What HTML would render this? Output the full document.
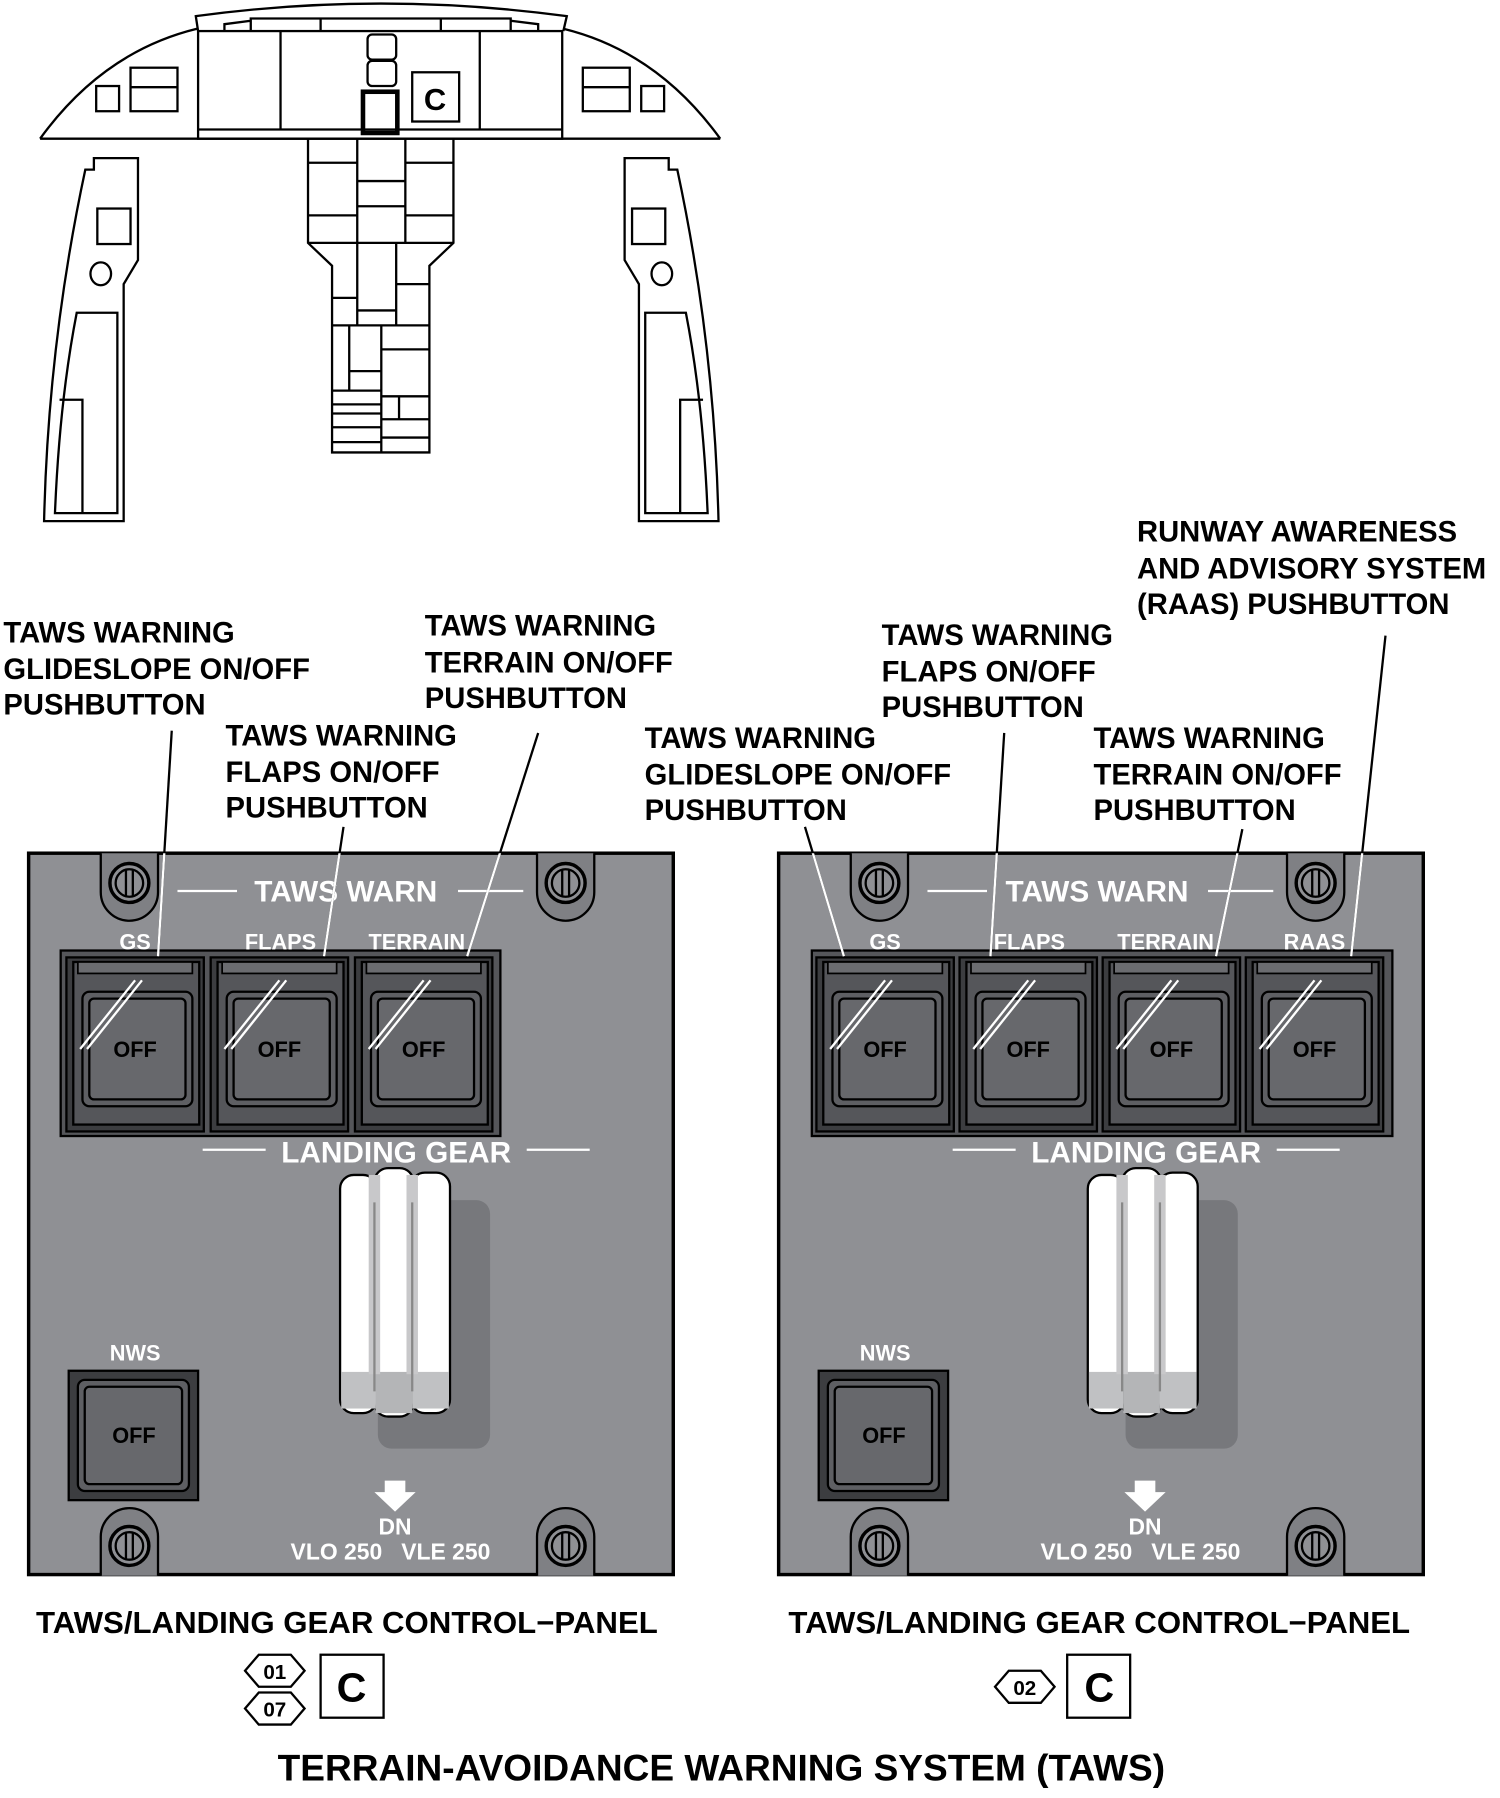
<!DOCTYPE html>
<html><head><meta charset="utf-8"><style>
html,body{margin:0;padding:0;background:#fff;}
svg{display:block}
text{font-family:"Liberation Sans",Arial,sans-serif;font-weight:bold}
</style></head><body>
<svg width="1500" height="1798" viewBox="0 0 1310 1570" xmlns="http://www.w3.org/2000/svg">
<defs>
<clipPath id="cpL"><rect x="25" y="745" width="563" height="630"/></clipPath>
<clipPath id="cpR"><rect x="680" y="745" width="563" height="630"/></clipPath>
<g id="screw">
 <path d="M-25,-26 L-25,8 A25,25 0 0 0 25,8 L25,-26" fill="#7f8084" stroke="#000" stroke-width="2"/>
 <circle r="17" fill="#8f9094" stroke="#000" stroke-width="3"/>
 <circle r="12" fill="none" stroke="#000" stroke-width="2"/>
 <line x1="-3" y1="-12" x2="-3" y2="12" stroke="#000" stroke-width="2"/>
 <line x1="3" y1="-12" x2="3" y2="12" stroke="#000" stroke-width="2"/>
</g>
<g id="btn">
 <rect x="0" y="0" width="120" height="152" fill="#3c3d40" stroke="#000" stroke-width="2"/>
 <rect x="6" y="4" width="110" height="142" fill="#55565a" stroke="#000" stroke-width="2"/>
 <rect x="10" y="4" width="100" height="10" fill="#6b6c70" stroke="#000" stroke-width="1.5"/>
 <rect x="14" y="30" width="96" height="100" rx="6" fill="#5e5f63" stroke="#000" stroke-width="2"/>
 <rect x="20" y="36" width="84" height="88" rx="4" fill="#67686c" stroke="#000" stroke-width="2"/>
 <line x1="12" y1="80" x2="60" y2="20" stroke="#fff" stroke-width="2"/>
 <line x1="18" y1="80" x2="66" y2="20" stroke="#fff" stroke-width="2"/>
 <text x="60" y="87" font-size="19" text-anchor="middle" fill="#000">OFF</text>
</g>
<g id="lever">
 <rect x="33" y="28" width="98" height="217" rx="12" fill="#77787c"/>
 <rect x="0" y="6" width="32" height="208" rx="12" fill="#fff" stroke="#000" stroke-width="2"/>
 <rect x="62" y="4" width="34" height="210" rx="12" fill="#fff" stroke="#000" stroke-width="2"/>
 <rect x="30" y="0" width="34" height="217" rx="12" fill="#fff" stroke="#000" stroke-width="2"/>
 <rect x="1" y="178" width="30" height="32" fill="#c0c1c3"/>
 <rect x="31" y="178" width="32" height="36" fill="#b4b5b7"/>
 <rect x="63" y="178" width="32" height="32" fill="#c0c1c3"/>
 <rect x="25" y="6" width="10" height="174" fill="#c8c8ca"/>
 <rect x="58" y="6" width="10" height="174" fill="#c8c8ca"/>
 <line x1="30" y1="30" x2="30" y2="195" stroke="#888" stroke-width="2"/>
 <line x1="63" y1="30" x2="63" y2="195" stroke="#888" stroke-width="2"/>
</g>
<g id="nws">
 <rect x="0" y="0" width="113" height="113" fill="#3c3d40" stroke="#000" stroke-width="2"/>
 <rect x="8" y="8" width="97" height="97" rx="6" fill="#5e5f63" stroke="#000" stroke-width="2"/>
 <rect x="14" y="14" width="85" height="85" rx="4" fill="#67686c" stroke="#000" stroke-width="2"/>
 <text x="57" y="63" font-size="19" text-anchor="middle" fill="#000">OFF</text>
</g>
<g id="hex">
 <polygon points="-26,0 -14,-14 14,-14 26,0 14,14 -14,14" fill="#fff" stroke="#000" stroke-width="2"/>
</g>
<g id="side" fill="none" stroke="#000" stroke-width="2">
 <path d="M82,138 L120.5,138 L120.5,227 L108,248 L108,455 L38.5,455 Q42,300 74.5,148 L82,148 Z"/>
 <path d="M67,273 L102.5,273 L102.5,448 L48,448 Q52,350 67,273 Z"/>
 <path d="M52,349 L72,349 L72,448"/>
 <rect x="85" y="182" width="29" height="31"/>
 <ellipse cx="88" cy="239" rx="9" ry="10"/>
</g>
</defs>

<!-- Cockpit overview -->
<g fill="none" stroke="#000" stroke-width="2">
 <path d="M35,121 Q90,45 172,25"/>
 <path d="M629,121 Q574,45 492,25"/>
 <path d="M35,121 L629,121"/>
 <path d="M173,27 L171,14 Q332,-8 495,14 L492,27"/>
 <path d="M196,27 L196,21 L219,18 M219,27 L219,16 L446,16 L446,27 M280,16 L280,27 M385,16 L385,27 M470,27 L470,21 L446,18"/>
 <rect x="173" y="27" width="318" height="94"/>
 <line x1="173" y1="113" x2="491" y2="113"/>
 <line x1="245" y1="27" x2="245" y2="113"/>
 <line x1="419" y1="27" x2="419" y2="113"/>
 <rect x="321" y="30" width="25" height="22" rx="4"/>
 <rect x="321" y="53" width="25" height="22" rx="4"/>
 <rect x="317" y="80" width="30" height="36" stroke-width="4"/>
 <rect x="360" y="63" width="41" height="43"/>
 <rect x="84" y="75" width="20" height="22"/>
 <rect x="114" y="59" width="41" height="38"/><line x1="114" y1="76" x2="155" y2="76"/>
 <rect x="509" y="59" width="41" height="38"/><line x1="509" y1="76" x2="550" y2="76"/>
 <rect x="560" y="75" width="20" height="22"/>
 <!-- center column -->
 <path d="M269,121 L269,212 L290,232 L290,395 L375,395 L375,232 L396,212 L396,121"/>
 <path d="M269,212 L396,212 M312,121 V212 M354,121 V212"/>
 <path d="M269,142 H312 M354,142 H396 M312,158 H354 M312,180 H354 M269,188 H312 M354,188 H396"/>
 <path d="M312,212 V284 M346,212 V284 M346,248 H375 M290,260 H312 M312,271 H346 M290,284 H375"/>
 <path d="M305,284 V341 M333,284 V395 M333,305 H375 M305,324 H333 M290,341 H333 M333,346 H375 M348.5,346 V366 M290,353 H333 M290,361 H333 M333,366 H375 M290,373 H333 M333,382 H375 M290,386 H333"/>
</g>
<use href="#side"/>
<use href="#side" transform="translate(666,0) scale(-1,1)"/>
<text x="380" y="96" font-size="27" text-anchor="middle" font-weight="normal">C</text>

<!-- Callout texts -->
<g font-size="25.5" fill="#000">
 <text x="3" y="561">TAWS WARNING</text><text x="3" y="593">GLIDESLOPE ON/OFF</text><text x="3" y="624">PUSHBUTTON</text>
 <text x="197" y="651">TAWS WARNING</text><text x="197" y="683">FLAPS ON/OFF</text><text x="197" y="714">PUSHBUTTON</text>
 <text x="371" y="555">TAWS WARNING</text><text x="371" y="587">TERRAIN ON/OFF</text><text x="371" y="618">PUSHBUTTON</text>
 <text x="993" y="473">RUNWAY AWARENESS</text><text x="993" y="505">AND ADVISORY SYSTEM</text><text x="993" y="536">(RAAS) PUSHBUTTON</text>
 <text x="770" y="563">TAWS WARNING</text><text x="770" y="595">FLAPS ON/OFF</text><text x="770" y="626">PUSHBUTTON</text>
 <text x="563" y="653">TAWS WARNING</text><text x="563" y="685">GLIDESLOPE ON/OFF</text><text x="563" y="716">PUSHBUTTON</text>
 <text x="955" y="653">TAWS WARNING</text><text x="955" y="685">TERRAIN ON/OFF</text><text x="955" y="716">PUSHBUTTON</text>
</g>

<!-- LEFT PANEL -->
<g>
 <rect x="25" y="745" width="563" height="630" fill="#8f9094" stroke="#000" stroke-width="3"/>
 <use href="#screw" x="113" y="771"/><use href="#screw" x="494" y="771"/>
 <use href="#screw" x="113" y="1350" transform="rotate(180 113 1350)"/><use href="#screw" x="494" y="1350" transform="rotate(180 494 1350)"/>
 <rect x="53" y="830" width="384" height="162" fill="#55565a" stroke="#000" stroke-width="2"/>
 <use href="#btn" x="58" y="836"/><use href="#btn" x="184" y="836"/><use href="#btn" x="310" y="836"/>
 <g fill="#fff" font-size="26" text-anchor="middle"><text x="302" y="787">TAWS WARN</text><text x="346" y="1015">LANDING GEAR</text></g>
 <g fill="#fff" font-size="19" text-anchor="middle"><text x="118" y="829">GS</text><text x="245" y="829">FLAPS</text><text x="364" y="829">TERRAIN</text><text x="118" y="1188">NWS</text></g>
 <g stroke="#fff" stroke-width="2"><line x1="155" y1="778" x2="207" y2="778"/><line x1="400" y1="778" x2="457" y2="778"/><line x1="177" y1="1004" x2="232" y2="1004"/><line x1="460" y1="1004" x2="515" y2="1004"/></g>
 <use href="#lever" x="297" y="1020"/>
 <use href="#nws" x="60" y="1197"/>
 <path d="M336,1293 h18 v10 h9 l-18,17 l-18,-17 h9 z" fill="#fff"/>
 <g fill="#fff" font-size="20" text-anchor="middle"><text x="345" y="1340">DN</text><text x="341" y="1362">VLO 250 &#160; VLE 250</text></g>
</g>

<!-- RIGHT PANEL -->
<g>
 <rect x="680" y="745" width="563" height="630" fill="#8f9094" stroke="#000" stroke-width="3"/>
 <use href="#screw" x="768" y="771"/><use href="#screw" x="1149" y="771"/>
 <use href="#screw" x="768" y="1350" transform="rotate(180 768 1350)"/><use href="#screw" x="1149" y="1350" transform="rotate(180 1149 1350)"/>
 <rect x="709" y="830" width="507" height="162" fill="#55565a" stroke="#000" stroke-width="2"/>
 <use href="#btn" x="713" y="836"/><use href="#btn" x="838" y="836"/><use href="#btn" x="963" y="836"/><use href="#btn" x="1088" y="836"/>
 <g fill="#fff" font-size="26" text-anchor="middle"><text x="958" y="787">TAWS WARN</text><text x="1001" y="1015">LANDING GEAR</text></g>
 <g fill="#fff" font-size="19" text-anchor="middle"><text x="773" y="829">GS</text><text x="899" y="829">FLAPS</text><text x="1018" y="829">TERRAIN</text><text x="1148" y="829">RAAS</text><text x="773" y="1188">NWS</text></g>
 <g stroke="#fff" stroke-width="2"><line x1="810" y1="778" x2="862" y2="778"/><line x1="1055" y1="778" x2="1112" y2="778"/><line x1="832" y1="1004" x2="887" y2="1004"/><line x1="1115" y1="1004" x2="1170" y2="1004"/></g>
 <use href="#lever" x="950" y="1020"/>
 <use href="#nws" x="715" y="1197"/>
 <path d="M991,1293 h18 v10 h9 l-18,17 l-18,-17 h9 z" fill="#fff"/>
 <g fill="#fff" font-size="20" text-anchor="middle"><text x="1000" y="1340">DN</text><text x="996" y="1362">VLO 250 &#160; VLE 250</text></g>
</g>

<!-- Leader lines -->
<g stroke="#000" stroke-width="2">
 <line x1="150" y1="638" x2="138" y2="835"/><line x1="300" y1="722" x2="283" y2="835"/><line x1="470" y1="640" x2="408" y2="835"/>
 <line x1="1210" y1="555" x2="1180" y2="835"/><line x1="877" y1="640" x2="865" y2="835"/><line x1="703" y1="722" x2="737" y2="835"/><line x1="1085" y1="724" x2="1062" y2="835"/>
</g>
<g stroke="#fff" stroke-width="2" clip-path="url(#cpL)">
 <line x1="150" y1="638" x2="138" y2="835"/><line x1="300" y1="722" x2="283" y2="835"/><line x1="470" y1="640" x2="408" y2="835"/>
</g>
<g stroke="#fff" stroke-width="2" clip-path="url(#cpR)">
 <line x1="1210" y1="555" x2="1180" y2="835"/><line x1="877" y1="640" x2="865" y2="835"/><line x1="703" y1="722" x2="737" y2="835"/><line x1="1085" y1="724" x2="1062" y2="835"/>
</g>

<!-- Captions -->
<g font-size="26.5" text-anchor="middle">
 <text x="303" y="1426" textLength="543" lengthAdjust="spacingAndGlyphs">TAWS/LANDING GEAR CONTROL−PANEL</text>
 <text x="960" y="1426" textLength="543" lengthAdjust="spacingAndGlyphs">TAWS/LANDING GEAR CONTROL−PANEL</text>
</g>
<use href="#hex" x="240" y="1459"/><use href="#hex" x="240" y="1492"/>
<use href="#hex" x="895" y="1473"/>
<g font-size="18" text-anchor="middle"><text x="240" y="1466">01</text><text x="240" y="1499">07</text><text x="895" y="1480">02</text></g>
<rect x="280" y="1445" width="55" height="55" fill="none" stroke="#000" stroke-width="2"/>
<rect x="932" y="1445" width="55" height="55" fill="none" stroke="#000" stroke-width="2"/>
<g font-size="36" text-anchor="middle"><text x="307" y="1486">C</text><text x="960" y="1486">C</text></g>
<text x="630" y="1555" font-size="32" text-anchor="middle" font-weight="normal" textLength="775" lengthAdjust="spacingAndGlyphs">TERRAIN-AVOIDANCE WARNING SYSTEM (TAWS)</text>
</svg>
</body></html>
